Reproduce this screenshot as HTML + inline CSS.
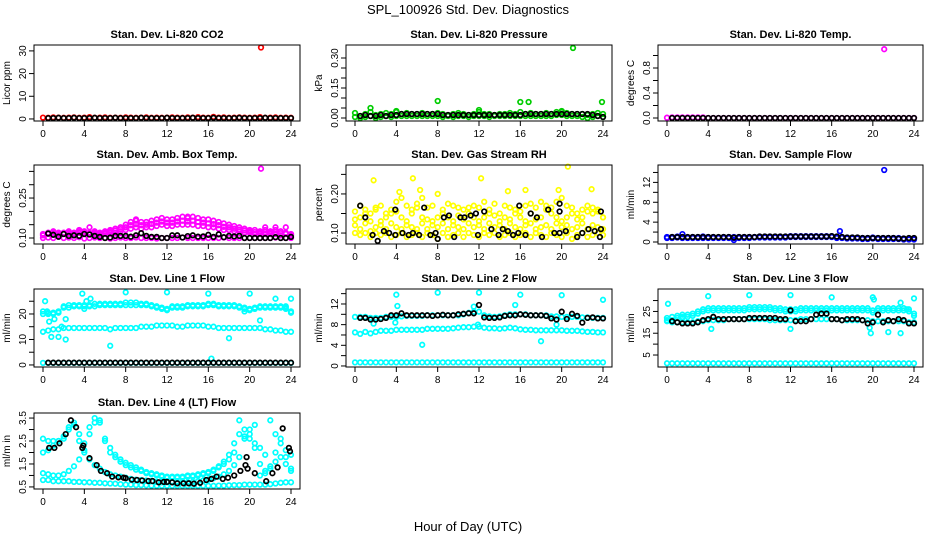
<!DOCTYPE html>
<html><head><meta charset="utf-8"><style>
html,body{margin:0;padding:0;background:#fff;}
svg{display:block;font-family:"Liberation Sans",sans-serif;}
</style></head><body>
<svg id="chart" width="936" height="540" viewBox="0 0 936 540" xmlns="http://www.w3.org/2000/svg">
<rect width="936" height="540" fill="#fff"/>
<text x="468" y="14" font-size="13" text-anchor="middle">SPL_100926  Std. Dev. Diagnostics</text>
<text x="468" y="531" font-size="13" text-anchor="middle">Hour of Day (UTC)</text>
</svg>
<script>
// shared hour grid
const H = [0,0.5,1,1.5,2,2.5,3,3.5,4,4.5,5,5.5,6,6.5,7,7.5,8,8.5,9,9.5,10,10.5,11,11.5,12,12.5,13,13.5,14,14.5,15,15.5,16,16.5,17,17.5,18,18.5,19,19.5,20,20.5,21,21.5,22,22.5,23,23.5,24];
const HB = [0.5,1,1.5,2,2.5,3,3.5,4,4.5,5,5.5,6,6.5,7,7.5,8,8.5,9,9.5,10,10.5,11,11.5,12,12.5,13,13.5,14,14.5,15,15.5,16,16.5,17,17.5,18,18.5,19,19.5,20,20.5,21,21.5,22,22.5,23,23.5,24];
const xTicks = [0,4,8,12,16,20,24];

// Panel 1 CO2
const co2Red = [0.6,0.5,0.7,0.6,0.5,0.6,0.7,0.5,0.6,0.8,0.5,0.6,0.7,0.5,0.6,0.5,0.7,0.6,0.5,0.6,0.7,0.5,0.6,0.5,0.6,0.7,0.6,0.5,0.7,0.6,0.8,0.6,0.5,0.9,0.6,0.7,0.5,0.6,0.7,0.6,0.5,0.6,0.8,0.5,0.6,0.7,0.5,0.6,0.5];
const co2Blk = [0.4,0.4,0.5,0.4,0.4,0.5,0.4,0.4,0.4,0.5,0.4,0.4,0.4,0.5,0.4,0.4,0.4,0.4,0.5,0.4,0.4,0.4,0.4,0.5,0.4,0.4,0.4,0.4,0.5,0.4,0.4,0.4,0.5,0.4,0.4,0.4,0.4,0.5,0.4,0.4,0.4,0.4,0.5,0.4,0.4,0.4,0.4,0.4];
const co2OutX = [21.1]; const co2OutY = [31.5];
// Panel 2 Pressure
const prGrn = [0.025,0.01,0.02,0.03,0.015,0.02,0.025,0.02,0.03,0.02,0.025,0.02,0.02,0.025,0.02,0.02,0.025,0.02,0.015,0.02,0.025,0.02,0.015,0.02,0.03,0.02,0.02,0.015,0.02,0.02,0.025,0.02,0.03,0.02,0.025,0.02,0.02,0.025,0.02,0.03,0.03,0.025,0.02,0.02,0.02,0.015,0.02,0.025,0.02];
const prGrn2 = [0.005,0.0,0.005,0.01,0.0,0.005,0.01,0.005,0.01,0.01,0.01,0.01,0.01,0.01,0.01,0.01,0.01,0.005,0.01,0.005,0.01,0.01,0.005,0.01,0.01,0.01,0.005,0.01,0.01,0.01,0.01,0.01,0.01,0.01,0.01,0.01,0.01,0.01,0.01,0.015,0.015,0.01,0.01,0.01,0.005,0.0,0.005,0.01,0.005];
const prBlk = [0.01,0.015,0.01,0.01,0.015,0.01,0.015,0.015,0.02,0.02,0.02,0.02,0.02,0.02,0.02,0.02,0.015,0.015,0.015,0.015,0.015,0.015,0.015,0.015,0.015,0.015,0.015,0.015,0.015,0.015,0.015,0.015,0.02,0.02,0.02,0.02,0.02,0.02,0.02,0.02,0.02,0.02,0.02,0.02,0.02,0.015,0.01,0.005];
const prOutX = [1.5,4,8,12,16,16.8,20,21.1,23.9]; const prOutY = [0.05,0.035,0.085,0.04,0.08,0.08,0.035,0.35,0.08];
// Panel 3 Temp
const tpMag = [0.005,0.01,0.01,0.01,0.01,0.01,0.01,0.01,0.0,0.0,0.0,0.0,0.0,0.0,0.0,0.0,0.0,0.0,0.0,0.0,0.0,0.0,0.0,0.0,0.0,0.0,0.0,0.0,0.0,0.0,0.0,0.0,0.0,0.0,0.0,0.0,0.0,0.0,0.0,0.0,0.0,0.0,0.0,0.0,0.0,0.0,0.0,0.0,0.0];
const tpBlk = [0.0,0.0,0.0,0.0,0.0,0.0,0.0,0.0,0.0,0.0,0.0,0.0,0.0,0.0,0.0,0.0,0.0,0.0,0.0,0.0,0.0,0.0,0.0,0.0,0.0,0.0,0.0,0.0,0.0,0.0,0.0,0.0,0.0,0.0,0.0,0.0,0.0,0.0,0.0,0.0,0.0,0.0,0.0,0.0,0.0,0.0,0.0,0.0];
const tpOutX = [21.1]; const tpOutY = [1.1];
// Panel 4 Amb box temp
const ambLow = [0.1,0.102,0.1,0.104,0.1,0.102,0.1,0.103,0.098,0.1,0.102,0.1,0.1,0.098,0.1,0.102,0.1,0.1,0.102,0.1,0.1,0.1,0.098,0.1,0.1,0.1,0.1,0.102,0.1,0.1,0.1,0.1,0.1,0.1,0.1,0.102,0.1,0.1,0.1,0.1,0.1,0.1,0.1,0.1,0.1,0.102,0.1,0.1,0.1];
const ambMid = [0.11,0.115,0.115,0.11,0.115,0.115,0.11,0.12,0.115,0.115,0.115,0.11,0.115,0.12,0.12,0.125,0.13,0.135,0.14,0.135,0.14,0.14,0.145,0.15,0.145,0.145,0.15,0.15,0.15,0.15,0.145,0.145,0.14,0.14,0.135,0.13,0.13,0.125,0.125,0.12,0.12,0.115,0.115,0.115,0.115,0.115,0.11,0.115,0.11];
const ambMid2 = [0.112,0.118,0.12,0.115,0.118,0.12,0.115,0.125,0.12,0.118,0.12,0.115,0.12,0.125,0.128,0.133,0.14,0.148,0.152,0.148,0.15,0.153,0.158,0.162,0.158,0.158,0.162,0.165,0.162,0.165,0.16,0.158,0.155,0.152,0.148,0.142,0.14,0.135,0.132,0.128,0.125,0.122,0.12,0.122,0.12,0.122,0.118,0.118,0.112];
const ambHigh = [0.115,0.12,0.125,0.12,0.12,0.125,0.12,0.13,0.125,0.12,0.125,0.12,0.125,0.13,0.135,0.14,0.15,0.16,0.165,0.16,0.16,0.165,0.17,0.175,0.17,0.17,0.175,0.18,0.175,0.18,0.175,0.17,0.17,0.165,0.16,0.155,0.15,0.145,0.14,0.135,0.13,0.13,0.125,0.13,0.125,0.13,0.125,0.12,0.115];
const ambBlk = [0.117,0.112,0.105,0.115,0.108,0.11,0.108,0.115,0.113,0.108,0.104,0.1,0.102,0.108,0.108,0.108,0.105,0.11,0.118,0.108,0.104,0.104,0.1,0.1,0.11,0.11,0.102,0.107,0.11,0.105,0.106,0.112,0.104,0.114,0.103,0.108,0.106,0.108,0.1,0.1,0.1,0.1,0.1,0.1,0.103,0.1,0.1,0.104];
const ambOutX = [21.1,4.5,9,14,21.5,22.5,23.5]; const ambOutY = [0.36,0.14,0.17,0.18,0.14,0.14,0.14];
// Panel 5 Gas stream RH
const rhA = [0.1,0.095,0.1,0.09,0.1,0.095,0.1,0.09,0.095,0.1,0.09,0.095,0.1,0.09,0.1,0.095,0.085,0.1,0.09,0.095,0.1,0.09,0.1,0.095,0.09,0.1,0.095,0.1,0.09,0.095,0.1,0.09,0.095,0.1,0.09,0.1,0.095,0.09,0.1,0.095,0.09,0.1,0.085,0.095,0.1,0.09,0.095,0.1,0.095];
const rhB = [0.12,0.11,0.125,0.105,0.115,0.12,0.11,0.125,0.115,0.11,0.12,0.115,0.11,0.125,0.11,0.12,0.115,0.125,0.11,0.12,0.115,0.11,0.125,0.115,0.12,0.11,0.125,0.115,0.12,0.11,0.125,0.115,0.11,0.12,0.125,0.11,0.115,0.12,0.11,0.125,0.115,0.12,0.11,0.115,0.125,0.11,0.12,0.115,0.11];
const rhC = [0.155,0.14,0.15,0.13,0.16,0.13,0.14,0.15,0.155,0.14,0.13,0.15,0.165,0.14,0.135,0.13,0.14,0.15,0.14,0.13,0.145,0.135,0.15,0.14,0.13,0.14,0.15,0.145,0.13,0.14,0.135,0.15,0.14,0.13,0.15,0.135,0.14,0.16,0.15,0.14,0.13,0.14,0.15,0.135,0.14,0.155,0.15,0.16,0.14];
const rhD = [0.135,0.17,0.16,0.15,0.165,0.17,0.15,0.16,0.18,0.19,0.17,0.16,0.175,0.19,0.165,0.17,0.2,0.16,0.175,0.17,0.165,0.16,0.165,0.17,0.165,0.18,0.16,0.175,0.15,0.17,0.165,0.16,0.155,0.17,0.175,0.165,0.18,0.17,0.165,0.18,0.19,0.17,0.165,0.15,0.16,0.17,0.165,0.155,0.14];
const rhOutX = [1.8,5.6,6.3,12.2,14.8,16.5,19.7,20.6,22.9,4.3]; const rhOutY = [0.235,0.24,0.21,0.24,0.207,0.21,0.21,0.27,0.212,0.205];
const rhBlkX = [0.5,1,1.7,2.2,2.8,3.3,3.9,3.9,4.6,5.2,5.6,6.2,6.7,7.3,7.8,8,8.6,9.1,9.6,10.2,10.6,11.2,11.7,11.9,12.5,13.2,13.9,14.3,14.8,15.3,15.9,15.8,16.5,17,17.6,18.1,18.7,19.3,19.8,19.8,19.8,20.4,21.5,22,22.6,23.2,23.8,23.8,23.7];
const rhBlkY = [0.17,0.14,0.095,0.08,0.105,0.1,0.16,0.095,0.1,0.095,0.1,0.095,0.165,0.095,0.1,0.085,0.14,0.145,0.09,0.14,0.14,0.145,0.15,0.095,0.155,0.11,0.095,0.11,0.105,0.095,0.17,0.1,0.095,0.15,0.14,0.09,0.16,0.1,0.175,0.155,0.1,0.105,0.09,0.1,0.11,0.105,0.155,0.11,0.09];
// Panel 6 Sample flow
const sfBlu = [1.0,1.0,1.1,1.0,0.9,1.0,1.0,1.1,1.0,1.0,0.9,1.0,1.0,1.0,1.0,1.0,1.0,1.0,1.1,1.1,1.1,1.1,1.1,1.1,1.2,1.2,1.2,1.2,1.2,1.2,1.2,1.2,1.2,1.0,1.0,0.9,0.9,0.9,0.8,0.8,0.9,0.8,0.8,0.8,0.8,0.8,0.7,0.7,0.7];
const sfBlu2 = [0.8,0.8,0.9,0.8,0.8,0.8,0.8,0.8,0.8,0.8,0.8,0.8,0.8,0.8,0.8,0.8,0.8,0.9,0.9,0.9,0.9,0.9,0.9,0.9,1.0,1.0,1.0,1.0,1.0,1.0,1.0,1.0,1.0,0.8,0.8,0.7,0.7,0.7,0.6,0.6,0.7,0.6,0.6,0.6,0.6,0.6,0.5,0.5,0.5];
const sfBlk = [1.0,1.0,1.0,1.0,1.0,1.0,1.0,1.0,1.0,1.0,1.0,1.0,0.9,1.0,1.0,1.0,1.0,1.1,1.1,1.1,1.1,1.1,1.1,1.1,1.1,1.1,1.1,1.1,1.1,1.1,1.1,1.2,1.1,1.0,0.9,0.9,0.9,0.8,0.8,0.8,0.8,0.8,0.8,0.8,0.7,0.7,0.8,0.8];
const sfOutX = [21.1,16.8,1.5,6.5]; const sfOutY = [14.5,2.2,1.6,0.4];
// Panel 7 Line 1 flow
const l1Up = [21,20.5,20.5,21,23,23.5,23.5,23.5,23.5,23.5,24,24,24,24,24,24,24.5,24.5,24.5,24,24,23.5,23,22.5,22,23,23,23,23.5,23.5,23.5,23.5,24,24,23.5,23.5,23.5,23.5,23,22.5,22,22.5,23,23,23,23,23,22.5,21];
const l1Up2 = [20,20,20,20.5,22.5,22.5,23,23,23,23,23,23.5,23.5,23.5,23.5,23.5,23.5,23.5,23.5,23.5,23.5,23,22.5,22,21.5,22.5,22.5,22.5,23,23,23,23,23.5,23.5,23,23,23,23,22.5,22,21.5,22,22.5,22.5,22.5,22.5,22.5,22,20.5];
const l1Mid = [13,13.5,14,14,14.5,14.5,14.5,14.5,14.5,14.5,14.5,14.5,14.5,14,14.5,14.5,14.5,14.5,14.5,15,15,15,15.5,15.5,15.5,15.5,15,15,15.5,15.5,15.5,15.5,15,15,14.5,14.5,14.5,14.5,14.5,14.5,14.5,14.5,14.5,14,14,13.5,13.5,13,13];
const l1Low = [0.8,0.8,0.8,0.8,0.8,0.8,0.8,0.8,0.8,0.8,0.8,0.8,0.8,0.8,0.8,0.8,0.8,0.8,0.8,0.8,0.8,0.8,0.8,0.8,0.8,0.8,0.8,0.8,0.8,0.8,0.8,0.8,0.8,0.8,0.8,0.8,0.8,0.8,0.8,0.8,0.8,0.8,0.8,0.8,0.8,0.8,0.8,0.8,0.8];
const l1Blk = [0.9,0.9,0.9,0.9,0.9,0.9,0.9,0.9,0.9,0.9,0.9,0.9,0.9,0.9,0.9,0.9,0.9,0.9,0.9,0.9,0.9,0.9,0.9,0.9,0.9,0.9,0.9,0.9,0.9,0.9,0.9,0.9,0.9,0.9,0.9,0.9,0.9,0.9,0.9,0.9,0.9,0.9,0.9,0.9,0.9,0.9,0.9,0.9];
const l1OutX = [0.2,0.4,0.6,0.8,1.1,1.5,1.8,2.2,3.8,4.6,6.5,8,12,16,16.3,18,20,21,22.5,23.5,24,2.2,4,4.2,19.5];
const l1OutY = [25,21,17,11,18,11,15,10,28,26,7.5,28.5,28.5,28,2.5,10.5,28,17.5,26,23,26,18,22,25,21];
// Panel 8 Line 2 flow
const l2Up = [9.5,9.5,9.5,9.3,9.3,9.3,9.5,9.5,9.5,9.6,9.7,9.7,9.7,9.7,9.8,9.8,9.8,9.8,9.8,9.8,9.8,10,10.3,10.5,10.5,9.8,9.6,9.5,9.6,9.8,10,10,10,10,9.8,9.8,9.8,9.8,9.6,9.6,9.5,9.5,9.5,9.5,9.4,9.4,9.3,9.3,9.3];
const l2Mid = [6.5,6.2,6.6,6.3,6.6,6.8,6.8,6.8,7.0,7.0,7.0,7.0,7.0,7.0,7.2,7.2,7.2,7.2,7.2,7.3,7.4,7.5,7.5,7.6,7.6,7.4,7.3,7.3,7.2,7.3,7.4,7.3,7.1,7.0,7.0,6.9,6.9,6.9,6.9,6.9,6.9,6.8,6.8,6.8,6.7,6.6,6.6,6.5,6.5];
const l2Low = [0.7,0.7,0.7,0.7,0.7,0.7,0.7,0.7,0.7,0.7,0.7,0.7,0.7,0.7,0.7,0.7,0.7,0.7,0.7,0.7,0.7,0.7,0.7,0.7,0.7,0.7,0.7,0.7,0.7,0.7,0.7,0.7,0.7,0.7,0.7,0.7,0.7,0.7,0.7,0.7,0.7,0.7,0.7,0.7,0.7,0.7,0.7,0.7,0.7];
const l2Blk = [9.3,9.3,9.0,9.0,9.1,9.3,9.8,9.8,10.2,9.8,9.8,9.8,9.8,9.8,9.7,9.8,9.9,9.8,9.8,10.0,10.1,10.2,10.2,11.8,9.4,9.3,9.3,9.4,9.7,9.8,9.8,10.0,9.9,9.8,9.8,9.8,9.7,9.2,9.0,10.5,9.1,10.1,9.7,8.4,9.3,9.4,9.2,9.2];
const l2OutX = [4,4.1,8,12,16,20,24,6.5,18,1.8,11.5,15.5,19.5,3.9,11.9];
const l2OutY = [13.8,11.6,14.2,14.2,13.8,13.7,12.8,4.1,4.8,8.2,11.5,11.8,8,8.4,8];
// Panel 9 Line 3 flow
const l3Up = [22,22.5,23,23.5,23.5,24,25,26,26.5,26.5,26.5,26.5,26.5,26.5,26.5,26.5,27,27,27,27,27,26.5,26.5,26,26,26,26.5,26.5,26.5,26.5,26.5,26.5,26.5,26.5,26.5,26.5,26.5,26.5,26.5,26.5,25.5,26.5,26.5,26.5,26.5,26.5,26.5,26,24];
const l3Up2 = [21,21,22,22.5,22.5,23,24,25,25.5,25.5,25.5,25.5,25.5,25.5,25.5,25.5,26,26,26,26,26,25.5,25.5,25,25,25,25.5,25.5,25.5,25.5,25.5,25.5,25.5,25.5,25.5,25.5,25.5,25.5,25.5,25.5,24.5,25.5,25.5,25.5,25.5,25.5,25.5,25,23];
const l3Mid = [20.5,20,20,20,20,20,20.5,20.5,21,21,21,21,21.5,21.5,21.5,21.5,21.5,21.5,21.5,21.5,21,21,21,21,21,21,21.5,21.5,21.5,21.5,21.5,21.5,21.5,21.5,21,21,21,21,21,21,20.5,20.5,20.5,20.5,20.5,20.5,20.5,20,20];
const l3Low = [1.2,1.2,1.2,1.2,1.2,1.2,1.2,1.2,1.2,1.2,1.2,1.2,1.2,1.2,1.2,1.2,1.2,1.2,1.2,1.2,1.2,1.2,1.2,1.2,1.2,1.2,1.2,1.2,1.2,1.2,1.2,1.2,1.2,1.2,1.2,1.2,1.2,1.2,1.2,1.2,1.2,1.2,1.2,1.2,1.2,1.2,1.2,1.2,1.2];
const l3Blk = [20.5,20,19.5,19.5,19.5,20,21,21.5,22.5,21.5,21.5,21.5,21.5,21.5,21.5,22,22,22,22,22,22,21.5,21.5,25.5,20.5,20.5,20.5,21.5,23.5,24,24,21.5,21.5,21,21.5,21.5,21.5,21,19.5,20,23.5,20,21,20.5,21.5,21,19.5,19.5];
const l3OutX = [0.1,4,8,12,16,20,20.1,24,1.5,4.3,19.7,21.5,22.7,23.3,12,19.8,22.7];
const l3OutY = [28.5,32,32.5,32.5,31.5,31.5,30.5,31,22,17,17.5,15.5,29,26,17,15,15];
// Panel 10 Line 4 (LT) flow
const l4A = [1.1,1.05,1.0,1.0,1.05,1.2,1.4,1.7,2.1,2.8,3.5,3.3,2.6,2.2,1.9,1.7,1.55,1.45,1.35,1.25,1.15,1.1,1.05,1.0,0.95,0.95,0.95,0.95,1.0,1.0,1.05,1.1,1.15,1.25,1.4,1.6,1.9,2.4,3.4,3.0,2.6,2.4,1.5,1.2,1.4,2.0,2.6,1.8,1.3];
const l4B = [2.6,2.5,2.5,2.5,2.6,3.0,3.2,2.5,2.0,1.7,1.45,1.3,1.15,1.05,1.0,0.95,0.9,0.85,0.82,0.8,0.78,0.75,0.72,0.7,0.7,0.7,0.7,0.7,0.7,0.72,0.75,0.78,0.82,0.88,0.95,1.05,1.2,1.45,1.8,2.7,3.0,3.2,2.2,1.9,3.4,2.8,2.4,2.1,1.9];
const l4C = [0.8,0.8,0.75,0.75,0.75,0.75,0.72,0.72,0.7,0.7,0.68,0.68,0.66,0.65,0.64,0.62,0.6,0.6,0.58,0.58,0.57,0.56,0.55,0.55,0.55,0.55,0.55,0.55,0.55,0.55,0.55,0.55,0.55,0.55,0.56,0.56,0.57,0.58,0.58,0.6,0.6,0.6,0.6,0.6,0.62,0.65,0.68,0.7,0.7];
const l4D = [2.0,2.1,2.3,2.5,2.7,3.1,3.3,2.8,2.4,3.1,3.3,3.4,2.5,2.0,1.8,1.6,1.45,1.35,1.25,1.2,1.1,1.05,1.0,0.95,0.9,0.9,0.9,0.9,0.95,0.95,1.0,1.05,1.1,1.2,1.35,1.5,1.7,2.0,2.8,2.6,2.8,2.2,1.0,1.1,1.3,1.6,1.8,1.5,1.2];
const l4BlkX = [0.6,1.1,1.6,2.2,2.7,3.2,3.8,3.9,4.5,5.2,5.6,6.2,6.7,7.3,7.8,8,8.6,9.1,9.6,10.2,10.6,11.2,11.7,12,12.5,13,13.6,14.1,14.6,15.2,15.8,16.3,16.8,17.4,17.9,18.5,19.1,19.6,19.7,19.8,20.5,21.6,22.2,22.7,23.2,23.8,23.9];
const l4BlkY = [2.2,2.2,2.4,2.8,3.4,3.1,2.2,2.3,1.75,1.45,1.2,1.1,0.95,0.92,0.9,0.88,0.82,0.8,0.78,0.76,0.76,0.7,0.72,0.72,0.7,0.66,0.66,0.66,0.64,0.68,0.8,0.85,0.95,0.85,0.9,1.0,1.2,1.45,1.8,1.3,1.1,0.75,1.1,1.35,3.05,2.2,2.05];

const P = [];
const cols = [[34,300],[346,612],[658,923]];
const rows = [[45,121],[165,244],[289,367],[413,489]];
function def(c,r,title,ylab,ymin,ymax,ticks,labels,series){ P.push({c,r,title,ylab,ymin,ymax,ticks,labels,series}); }
const RED="#ff0000",GRN="#00cd00",MAG="#ff00ff",YEL="#ffff00",BLU="#0000ff",CYN="#00ffff",BLK="#000000";
def(0,0,"Stan. Dev. Li-820 CO2","Licor ppm",-0.9,32.6,[0,10,20,30],["0","10","20","30"],
 [[H,co2Red,RED],[co2OutX,co2OutY,RED],[HB,co2Blk,BLK]]);
def(1,0,"Stan. Dev. Li-820 Pressure","kPa",-0.015,0.365,[0,0.05,0.1,0.15,0.2,0.25,0.3],["0.00","","","0.15","","","0.30"],
 [[H,prGrn,GRN],[H,prGrn2,GRN],[prOutX,prOutY,GRN],[HB,prBlk,BLK]]);
def(2,0,"Stan. Dev. Li-820 Temp.","degrees C",-0.048,1.168,[0,0.2,0.4,0.6,0.8,1.0],["0.0","","0.4","","0.8",""],
 [[H,tpMag,MAG],[tpOutX,tpOutY,MAG],[HB,tpBlk,BLK]]);
def(0,1,"Stan. Dev. Amb. Box Temp.","degrees C",0.0775,0.374,[0.1,0.15,0.2,0.25,0.3,0.35],["0.10","","","0.25","",""],
 [[H,ambLow,MAG],[H,ambMid,MAG],[H,ambMid2,MAG],[H,ambHigh,MAG],[ambOutX,ambOutY,MAG],[HB,ambBlk,BLK]]);
def(1,1,"Stan. Dev. Gas Stream RH","percent",0.072,0.274,[0.1,0.15,0.2,0.25],["0.10","","0.20",""],
 [[H,rhA,YEL],[H,rhB,YEL],[H,rhC,YEL],[H,rhD,YEL],[rhOutX,rhOutY,YEL],[rhBlkX,rhBlkY,BLK]]);
def(2,1,"Stan. Dev. Sample Flow","ml/min",-0.4,15.5,[0,2,4,6,8,10,12,14],["0","","4","","8","","12",""],
 [[H,sfBlu,BLU],[H,sfBlu2,BLU],[sfOutX,sfOutY,BLU],[HB,sfBlk,BLK]]);
def(0,2,"Stan. Dev. Line 1 Flow","ml/min",-0.8,29.8,[0,5,10,15,20,25],["0","","10","","20",""],
 [[H,l1Up,CYN],[H,l1Up2,CYN],[H,l1Mid,CYN],[H,l1Low,CYN],[l1OutX,l1OutY,CYN],[HB,l1Blk,BLK]]);
def(1,2,"Stan. Dev. Line 2 Flow","ml/min",-0.2,14.9,[0,2,4,6,8,10,12,14],["0","","4","","8","","12",""],
 [[H,l2Up,CYN],[H,l2Mid,CYN],[H,l2Low,CYN],[l2OutX,l2OutY,CYN],[HB,l2Blk,BLK]]);
def(2,2,"Stan. Dev. Line 3 Flow","ml/min",-0.5,35.3,[5,10,15,20,25,30],["5","","15","","25",""],
 [[H,l3Up,CYN],[H,l3Up2,CYN],[H,l3Mid,CYN],[H,l3Low,CYN],[l3OutX,l3OutY,CYN],[HB,l3Blk,BLK]]);
def(0,3,"Stan. Dev. Line 4 (LT) Flow","ml/m in",0.41,3.72,[0.5,1,1.5,2,2.5,3,3.5],["0.5","","1.5","","2.5","","3.5"],
 [[H,l4A,CYN],[H,l4B,CYN],[H,l4C,CYN],[H,l4D,CYN],[l4BlkX,l4BlkY,BLK]]);

const svg = document.getElementById('chart');
const NS = "http://www.w3.org/2000/svg";
function mk(tag, attrs, parent){ const e=document.createElementNS(NS,tag); for(const k in attrs) e.setAttribute(k,attrs[k]); parent.appendChild(e); return e; }

P.forEach((p,pi)=>{
  const [L,R]=cols[p.c], [T,B]=rows[p.r];
  const x0=L+9, x1=R-9;
  const xs = h => x0 + (h/24)*(x1-x0);
  const ys = v => B - (v-p.ymin)/(p.ymax-p.ymin)*(B-T);
  const g = mk('g',{},svg);
  
  
  const t = mk('text',{x:(L+R)/2,y:T-7,'font-size':11,'font-weight':'bold','text-anchor':'middle'},g);
  t.textContent=p.title;
  
  
  const yl = mk('text',{x:0,y:0,'font-size':10,'text-anchor':'middle',transform:`translate(${L-24},${(T+B)/2}) rotate(-90)`},g);
  yl.textContent=p.ylab;
  
  
  const mg = mk('g',{fill:'none','stroke-width':1.7},g);
  
  
  p.series.forEach(s=>{
    const [X,Y,col]=s;
    for(let i=0;i<Y.length;i++){
      const c = mk('circle',{cx:xs(X[i]).toFixed(1),cy:ys(Y[i]).toFixed(1),r:2.3,stroke:col},mg);
      
      
    }
  });
  const bx = mk('rect',{x:L,y:T,width:R-L,height:B-T,fill:'none',stroke:'#000','stroke-width':1},g);
  
  
  const xa = mk('g',{stroke:'#000','stroke-width':1},g);
  
  
  mk('line',{x1:xs(0),x2:xs(24),y1:B,y2:B},xa);
  xTicks.forEach(v=>{
    mk('line',{x1:xs(v),x2:xs(v),y1:B,y2:B+5},xa);
    const tl = mk('text',{x:xs(v),y:B+16,'font-size':10,'text-anchor':'middle',stroke:'none',fill:'#000'},g);
    tl.textContent=v;
    
    
  });
  const ya = mk('g',{stroke:'#000','stroke-width':1},g);
  
  
  mk('line',{x1:L,x2:L,y1:ys(p.ticks[0]),y2:ys(p.ticks[p.ticks.length-1])},ya);
  p.ticks.forEach((v,i)=>{
    const yy=ys(v);
    mk('line',{x1:L-5,x2:L,y1:yy,y2:yy},ya);
    if(p.labels[i]){
      const tl = mk('text',{x:0,y:0,'font-size':10,'text-anchor':'middle',transform:`translate(${L-8},${yy}) rotate(-90)`},g);
      tl.textContent=p.labels[i];
      
      
    }
  });
});
</script>
</body></html>
